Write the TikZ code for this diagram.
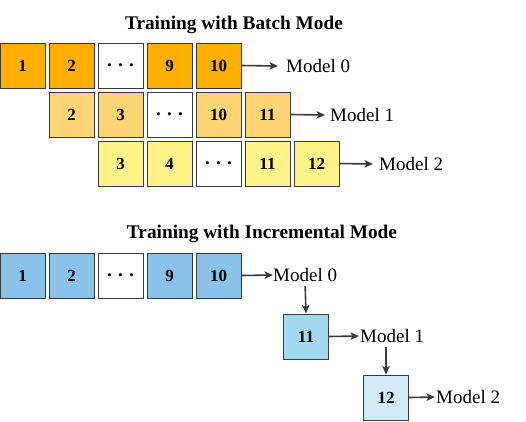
\documentclass[tikz,border=0pt]{standalone}
\usepackage{fontspec}
\setmainfont{Liberation Serif}
\usetikzlibrary{arrows.meta,calc}
\definecolor{cA}{HTML}{FFAF00}
\definecolor{cB}{HTML}{FFD475}
\definecolor{cC}{HTML}{FFF489}
\definecolor{cD}{HTML}{8AC3EA}
\definecolor{cE}{HTML}{A2D8F0}
\definecolor{cF}{HTML}{D2ECF7}
\definecolor{edge}{HTML}{3A3A3A}
\tikzset{
  box/.style={draw=edge, line width=1pt, minimum size=45pt, inner sep=0pt, font=\fontsize{17}{17}\selectfont\bfseries},
  dots/.style={box, fill=white, font=\fontsize{19}{19}\selectfont\bfseries},
  lbl/.style={inner sep=0pt, font=\fontsize{19}{20}\selectfont},
  ttl/.style={inner sep=0pt, font=\fontsize{19.3}{20}\selectfont\bfseries},
  arr/.style={draw=edge, line width=1.6pt, -{Stealth[length=8.5pt,width=7.5pt,inset=2pt]}},
}
\begin{document}
\begin{tikzpicture}[x=1pt,y=-1pt]
\useasboundingbox (0,0) rectangle (526,421);
% Batch mode
\node[ttl] (t1) at (234,25) {Training with Batch Mode};
\node[box,fill=cA] (a1) at (22.5,65.5) {1};
\node[box,fill=cA] (a2) at (71.5,65.5) {2};
\node[dots] (a3) at (120.5,65.5) {. . .};
\node[box,fill=cA] (a4) at (169.5,65.5) {9};
\node[box,fill=cA] (a5) at (218.5,65.5) {10};
\node[lbl,anchor=west] (m0) at (286,66) {Model 0};
\draw[arr] (a5.east) -- ($(m0.west)+(-8,0)$);

\node[box,fill=cB] (b1) at (71.5,114.5) {2};
\node[box,fill=cB] (b2) at (120.5,114.5) {3};
\node[dots] (b3) at (169.5,114.5) {. . .};
\node[box,fill=cB] (b4) at (218.5,114.5) {10};
\node[box,fill=cB] (b5) at (267.5,114.5) {11};
\node[lbl,anchor=west] (m1) at (330,115) {Model 1};
\draw[arr] (b5.east) -- ($(m1.west)+(-5,0)$);

\node[box,fill=cC] (c1) at (120.5,163.5) {3};
\node[box,fill=cC] (c2) at (169.5,163.5) {4};
\node[dots] (c3) at (218.5,163.5) {. . .};
\node[box,fill=cC] (c4) at (267.5,163.5) {11};
\node[box,fill=cC] (c5) at (316.5,163.5) {12};
\node[lbl,anchor=west] (m2) at (379,164) {Model 2};
\draw[arr] (c5.east) -- ($(m2.west)+(-6,0)$);

% Incremental mode
\node[ttl] (t2) at (262,234) {Training with Incremental Mode};
\node[box,fill=cD] (d1) at (22.5,275.5) {1};
\node[box,fill=cD] (d2) at (71.5,275.5) {2};
\node[dots] (d3) at (120.5,275.5) {. . .};
\node[box,fill=cD] (d4) at (169.5,275.5) {9};
\node[box,fill=cD] (d5) at (218.5,275.5) {10};
\node[lbl,anchor=west] (n0) at (273,275) {Model 0};
\draw[arr] (d5.east) -- (n0.west);

\node[box,fill=cE] (e1) at (306,336.5) {11};
\node[lbl,anchor=west] (n1) at (360,336) {Model 1};
\draw[arr] (n0.south) ++(0,4) -- (e1.north);
\draw[arr] (e1.east) -- ($(n1.west)+(-1,0)$);

\node[box,fill=cF] (f1) at (386,397.5) {12};
\node[lbl,anchor=west] (n2) at (436,397) {Model 2};
\draw[arr] ($(n1.south -| f1.north)+(0,4)$) -- (f1.north);
\draw[arr] (f1.east) -- ($(n2.west)+(-1,0)$);
\end{tikzpicture}
\end{document}
